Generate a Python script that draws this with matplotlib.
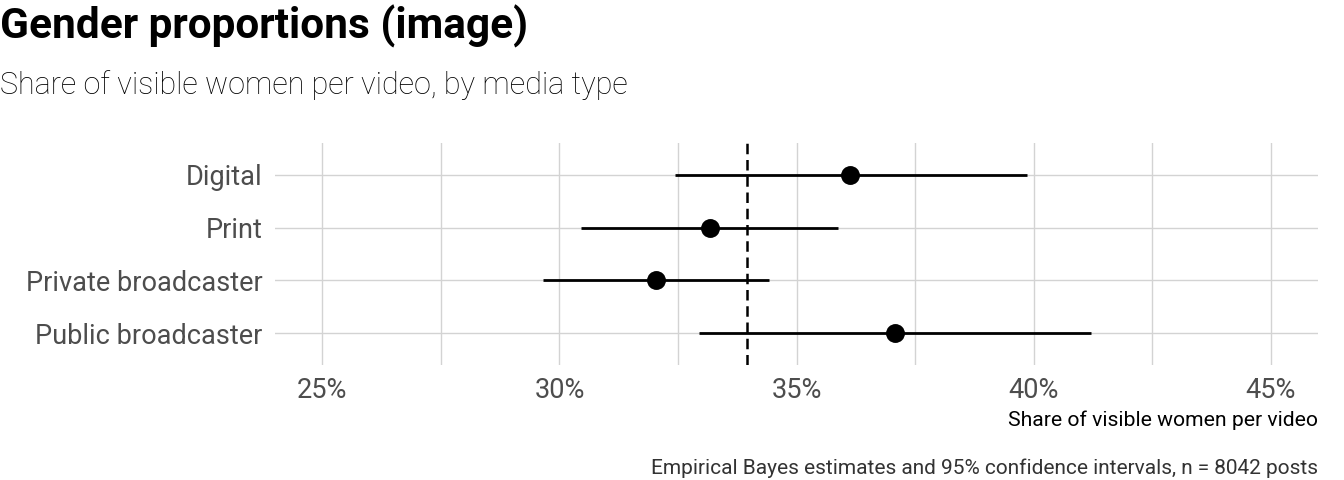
import matplotlib
matplotlib.use("Agg")
import matplotlib.pyplot as plt
from matplotlib.ticker import FixedLocator, FuncFormatter

plt.rcParams['font.family'] = ['Roboto', 'DejaVu Sans']

categories = ["Digital", "Print", "Private broadcaster", "Public broadcaster"]
estimate = [36.13, 33.18, 32.04, 37.08]
ci_low = [32.44, 30.46, 29.66, 32.95]
ci_high = [39.86, 35.87, 34.42, 41.21]
overall = 33.96
x_ticks = [25, 30, 35, 40, 45]
x_minor = [27.5, 32.5, 37.5, 42.5]

fig = plt.figure(figsize=(13.44, 4.8), dpi=100)
ax = fig.add_axes([275/1344, 1-365/480, (1318-275)/1344, (365-143)/480])

ypos = list(range(len(categories)))[::-1]  # Digital at top
grid_c = "#D3D3D3"
for x in x_ticks + x_minor:
    ax.axvline(x, color=grid_c, lw=1.0, zorder=0)
for y in ypos:
    ax.axhline(y, color=grid_c, lw=1.0, zorder=0)

ax.axvline(overall, color="black", lw=1.8, ls=(0, (4.2, 2.3)), zorder=2)
for y, lo, hi in zip(ypos, ci_low, ci_high):
    ax.plot([lo, hi], [y, y], color="black", lw=2.0, solid_capstyle="butt", zorder=3)
ax.scatter(estimate, ypos, s=185, color="black", zorder=4, linewidths=0)

ax.set_xlim(24.0, 46.0)
ax.set_ylim(-0.6, 3.6)
ax.xaxis.set_major_locator(FixedLocator(x_ticks))
ax.xaxis.set_major_formatter(FuncFormatter(lambda v, p: f"{v:.0f}%"))
ax.set_yticks(ypos)
ax.set_yticklabels(categories)
ax.tick_params(axis='both', length=0, labelsize=19.5, labelcolor="#4D4D4D")
ax.tick_params(axis='y', pad=9)
ax.tick_params(axis='x', pad=9)
for s in ax.spines.values():
    s.set_visible(False)

fig.text(0, 1-39/480, "Gender proportions (image)", fontsize=30.5, fontweight="bold", color="black", ha="left", va="baseline")
fig.text(0, 1-94/480, "Share of visible women per video, by media type", fontsize=22, fontweight="light", color="black", ha="left", va="baseline")
fig.text(1318/1344, 1-426/480, "Share of visible women per video", fontsize=15.2, color="black", ha="right", va="baseline")
fig.text(1318/1344, 1-474/480, "Empirical Bayes estimates and 95% confidence intervals, n = 8042 posts", fontsize=15, color="#333333", ha="right", va="baseline")

fig.savefig("out.png", dpi=100)
